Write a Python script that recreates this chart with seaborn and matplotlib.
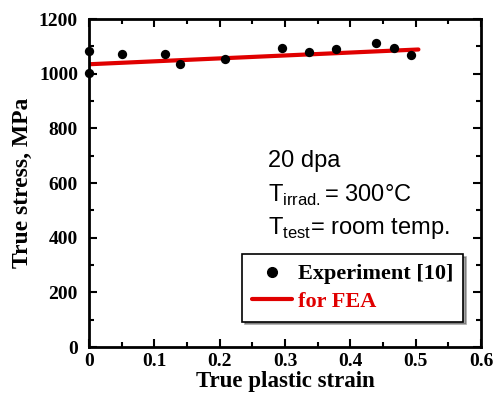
import matplotlib
matplotlib.use("Agg")
import matplotlib.pyplot as plt
import seaborn as sns
import pandas as pd
from matplotlib.ticker import MultipleLocator
from matplotlib.lines import Line2D

# Data
exp_strain = [0.0, 0.0, 0.051, 0.116, 0.139, 0.208, 0.295, 0.337, 0.378, 0.439, 0.466, 0.492]
exp_stress = [1083, 1004, 1071, 1071, 1035, 1054, 1095, 1080, 1089, 1111, 1095, 1068]
fea_strain = [0.0, 0.504]
fea_stress = [1035, 1089]

sns.set_theme(style="ticks")
plt.rcParams['font.family'] = ['Liberation Serif', 'DejaVu Serif']
plt.rcParams['text.color'] = 'black'
plt.rcParams['axes.labelcolor'] = 'black'
plt.rcParams['xtick.color'] = 'black'
plt.rcParams['ytick.color'] = 'black'
plt.rcParams['xtick.labelcolor'] = 'black'
plt.rcParams['ytick.labelcolor'] = 'black'

fig = plt.figure(figsize=(4.95, 3.99), dpi=100)
ax = fig.add_axes([0.180, 0.130, 0.792, 0.822])

df_exp = pd.DataFrame({"strain": exp_strain, "stress": exp_stress})
df_fea = pd.DataFrame({"strain": fea_strain, "stress": fea_stress})

sns.lineplot(data=df_fea, x="strain", y="stress", ax=ax, color="#e00000", linewidth=3, zorder=2)
sns.scatterplot(data=df_exp, x="strain", y="stress", ax=ax, color="black", s=45,
                edgecolor="black", linewidth=0, zorder=3, clip_on=False)

ax.set_xlim(0, 0.6)
ax.set_ylim(0, 1200)
ax.xaxis.set_major_locator(MultipleLocator(0.1))
ax.xaxis.set_minor_locator(MultipleLocator(0.05))
ax.yaxis.set_major_locator(MultipleLocator(200))
ax.yaxis.set_minor_locator(MultipleLocator(100))
ax.set_xticks([0, 0.1, 0.2, 0.3, 0.4, 0.5, 0.6])
ax.set_xticklabels(["0", "0.1", "0.2", "0.3", "0.4", "0.5", "0.6"])
ax.tick_params(which="both", direction="in", top=True, right=True, width=1.5,
               color="black", labelcolor="black")
ax.tick_params(which="major", length=6, labelsize=14)
ax.tick_params(axis="y", which="major", pad=8)
ax.tick_params(axis="x", which="major", pad=4)
ax.tick_params(which="minor", length=3.5)
for lbl in ax.get_xticklabels() + ax.get_yticklabels():
    lbl.set_fontweight("bold")
for sp in ax.spines.values():
    sp.set_linewidth(2)
    sp.set_color("black")

ax.set_xlabel("True plastic strain", fontsize=16.5, fontweight="bold", labelpad=1, color="black")
ax.set_ylabel("True stress, MPa", fontsize=17, fontweight="bold", labelpad=4, color="black")

sans = ['Liberation Sans', 'DejaVu Sans']
ax.text(0.457, 0.567, "20 dpa", fontsize=17, family=sans, va="center",
        color="black", transform=ax.transAxes)
ax.text(0.457, 0.463, r"T$_{\mathregular{irrad.}}$= 300°C", fontsize=17, family=sans,
        va="center", color="black", transform=ax.transAxes)
ax.text(0.457, 0.362, r"T$_{\mathregular{test}}$= room temp.", fontsize=17, family=sans,
        va="center", color="black", transform=ax.transAxes)

handles = [Line2D([], [], marker="o", color="black", linestyle="none", markersize=7),
           Line2D([], [], color="#e00000", linewidth=3)]
leg = ax.legend(handles, ["Experiment [10]", "for FEA"], loc="lower right",
                bbox_to_anchor=(0.954, 0.078), frameon=True, fancybox=False, shadow=True,
                prop={"weight": "bold", "size": 16}, handlelength=1.8, handletextpad=0.25,
                borderpad=0.45, labelspacing=0.3, borderaxespad=0)
leg.get_frame().set_edgecolor("black")
leg.get_frame().set_linewidth(1.2)
leg.get_texts()[0].set_color("black")
leg.get_texts()[1].set_color("#e00000")

fig.savefig("out.png", dpi=100)
